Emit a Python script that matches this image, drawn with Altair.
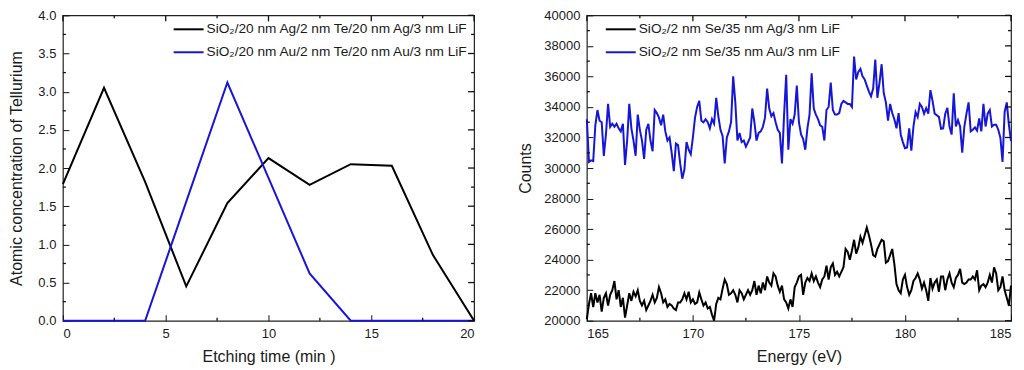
import altair as alt
import numpy as np
import pandas as pd

# ---------------- data: left panel ----------------
etch_time = [0, 2, 4, 6, 8, 10, 12, 14, 16, 18, 20]
te_ag = [1.79, 3.05, 1.82, 0.45, 1.54, 2.13, 1.78, 2.05, 2.03, 0.86, 0.0]
te_au = [0.0, 0.0, 0.0, 1.56, 3.12, 1.87, 0.62, 0.0, 0.0, 0.0, 0.0]
label_ag = "SiO₂/20 nm Ag/2 nm Te/20 nm Ag/3 nm LiF"
label_au = "SiO₂/20 nm Au/2 nm Te/20 nm Au/3 nm LiF"

# ---------------- data: right panel ----------------
energy = [round(165.0 + 0.1 * i, 1) for i in range(201)]
counts_ag = [
    20100, 21100, 21800, 20900, 21800, 21200, 21700, 20600, 21500, 21800,
    21000, 21700, 22000, 22600, 21400, 22000, 20900, 21500, 20200, 21000,
    21800, 21300, 21900, 21600, 22000, 21300, 21000, 21300, 20700, 21000,
    21300, 21700, 21200, 21500, 22200, 21800, 21200, 21400, 20900, 21100,
    21000, 20800, 20700, 21200, 21200, 21400, 21800, 21400, 21900, 21200,
    21400, 21100, 21200, 21850, 21400, 21000, 21200, 20800, 20900, 20400,
    20000, 21100, 21500, 21400, 22100, 22700, 22400, 21700, 21800, 22000,
    21700, 21200, 22000, 21800, 21400, 21700, 22000, 21700, 22000, 22600,
    21700, 22300, 21800, 22500, 22000, 22900, 22500, 22300, 23100, 22900,
    22300, 21900, 22300, 21400, 21200, 20800, 21400, 20900, 22200, 22500,
    22900, 23000, 21700, 22500, 22800, 22600, 23100, 22600, 22900, 22500,
    22200, 22700, 22900, 23600, 22700, 23500, 23750, 23000, 23200, 22900,
    23200, 23500, 24700, 24500, 24000, 24600, 25300, 24400, 24800, 25500,
    25100, 25600, 26100, 25600, 25000, 24300, 24200, 24700, 25000, 25300,
    25200, 23800, 23900, 24300, 24700, 23700, 22400, 22000, 21800, 22700,
    23000, 22200, 21700, 22000, 22600, 22800, 23100, 22700, 22100, 22500,
    22000, 21300, 22800, 22100, 22500, 22700, 21900, 22900, 22900, 22000,
    22700, 23100, 22500, 22200, 22800, 23000, 23400, 22500, 22400, 22500,
    22700, 22700, 22900, 22700, 23300, 22000, 22300, 22400, 22200, 22500,
    23000, 22500, 23500, 23100, 22000, 22200, 22900, 22000, 21500, 21000,
    22300,
]
counts_au = [
    33200, 30400, 30500, 30450, 32800, 33800, 33100, 33000, 30800, 32200,
    34200, 32700, 32900, 32700, 32900, 32600, 32400, 32900, 30200, 31800,
    34200, 32600, 31800, 30800, 33500, 32500, 31800, 30600, 32500, 32900,
    31800, 31100, 33800, 33600, 33300, 32800, 33500, 32400, 31800, 32000,
    31000, 29800, 31600, 31500, 30300, 29300, 29900, 31700, 31200, 30900,
    32000, 33300, 34000, 34400, 33100, 33000, 33200, 33000, 32600, 33200,
    32900, 34600, 33400, 32500, 32100, 30300, 32000, 32400, 33000, 36000,
    34300, 31800, 32300, 31700, 31800, 31400, 31700, 32000, 33900, 33000,
    31800, 32300, 32400, 32700, 33300, 35200, 33900, 33400, 33600, 33000,
    32500, 32300, 30300, 33500, 36100, 31200, 33200, 32900, 33500, 35400,
    33000, 32200, 31900, 31200, 32600, 33500, 36200, 33900, 33500, 33200,
    32800, 32700, 31800, 33800, 34000, 35600, 33800, 33500, 33500, 33600,
    34200, 34400, 34300, 34200, 34200, 34000, 37300, 35800, 36300, 36500,
    36000, 35800, 35400, 35000, 34700, 35200, 37100, 34600, 35600, 36800,
    34900, 34300, 33100, 34200, 33600, 33200, 32600, 33600, 32200, 31700,
    31300, 31350, 32600, 31140, 32720, 33670, 33350, 34200, 34000, 33560,
    33920, 33560, 35100, 34400, 33560, 33460, 33350, 32570, 32600, 33560,
    33940, 32720, 32190, 34900, 32720, 33140, 32720, 31000, 32720, 33560,
    34300, 32400, 32510, 32660, 32450, 33250, 32400, 34200, 32720, 33560,
    33800, 32720, 32830, 32830, 32510, 31980, 30400, 33670, 34300, 32830,
    31770,
]
label_se_ag = "SiO₂/2 nm Se/35 nm Ag/3 nm LiF"
label_se_au = "SiO₂/2 nm Se/35 nm Au/3 nm LiF"

# axis ticks
left_x_major = [0, 5, 10, 15, 20]
left_x_minor = [2.5, 7.5, 12.5, 17.5]
left_y_major = [0, 0.5, 1, 1.5, 2, 2.5, 3, 3.5, 4]
left_y_minor = [0.25, 0.75, 1.25, 1.75, 2.25, 2.75, 3.25, 3.75]
right_x_major = [165, 170, 175, 180, 185]
right_x_minor = [167.5, 172.5, 177.5, 182.5]
right_y_major = [20000, 22000, 24000, 26000, 28000, 30000, 32000, 34000, 36000, 38000, 40000]
right_y_minor = [21000, 23000, 25000, 27000, 29000, 31000, 33000, 35000, 37000, 39000]

BLACK = "#000000"
BLUE = "#1616d6"
FONT = "Liberation Sans"
TXT = "#1a1a1a"
TICK = "#111111"
INWARD = {"expr": "-6"}

left_df = pd.concat([
    pd.DataFrame({"x": etch_time, "y": te_ag, "series": label_ag, "o": 0}),
    pd.DataFrame({"x": etch_time, "y": te_au, "series": label_au, "o": 1}),
])
right_df = pd.concat([
    pd.DataFrame({"x": energy, "y": counts_ag, "series": label_se_ag, "o": 0}),
    pd.DataFrame({"x": energy, "y": counts_au, "series": label_se_au, "o": 1}),
])


def panel(df, labels, xdom, ydom, xmajor, xminor, ymajor, yminor, xtitle, ytitle,
          w, h, lx, ly, yfmt, ytitle_pad):
    xs = alt.Scale(domain=xdom, nice=False, zero=False)
    ys = alt.Scale(domain=ydom, nice=False, zero=False)
    xaxis = alt.Axis(values=xmajor, ticks=True, tickSize=INWARD, tickColor=TICK,
                     domain=False, grid=False, title=xtitle,
                     format="d", labelPadding=13, titlePadding=8)
    yaxis = alt.Axis(values=ymajor, ticks=True, tickSize=INWARD, tickColor=TICK,
                     domain=False, grid=False, title=ytitle,
                     format=yfmt, labelPadding=13, titlePadding=ytitle_pad)
    main = alt.Chart(df).mark_line(strokeWidth=2).encode(
        x=alt.X("x:Q", scale=xs, axis=xaxis),
        y=alt.Y("y:Q", scale=ys, axis=yaxis),
        color=alt.Color("series:N", scale=alt.Scale(domain=labels, range=[BLACK, BLUE]),
                        legend=alt.Legend(
                            orient="none", legendX=lx, legendY=ly, title=None,
                            symbolType="stroke", symbolSize=900, symbolStrokeWidth=2,
                            labelFontSize=13.7, labelFont=FONT, labelColor=TXT,
                            labelLimit=500, padding=0, rowPadding=-12, labelOffset=2)),
        order="o:Q",
    )

    def xticks(vals, size, top):
        d = pd.DataFrame({"tx": vals})
        return alt.Chart(d).mark_rule(color=TICK, strokeWidth=1.3).encode(
            x=alt.X("tx:Q", scale=xs, axis=None),
            y=alt.value(0 if top else h),
            y2=alt.value(size if top else h - size),
        )

    def yticks(vals, size, right):
        d = pd.DataFrame({"ty": vals})
        return alt.Chart(d).mark_rule(color=TICK, strokeWidth=1.3).encode(
            y=alt.Y("ty:Q", scale=ys, axis=None),
            x=alt.value(w if right else 0),
            x2=alt.value(w - size if right else size),
        )

    layers = [
        main,
        xticks(xmajor, 6, True),
        xticks(xminor, 3, False), xticks(xminor, 3, True),
        yticks(ymajor, 6, True),
        yticks(yminor, 3, False), yticks(yminor, 3, True),
    ]
    return alt.layer(*layers).resolve_axis(x="independent", y="independent").properties(
        width=w, height=h)


left = panel(
    left_df, [label_ag, label_au], [0, 20], [0, 4],
    left_x_major, left_x_minor, left_y_major, left_y_minor,
    "Etching time (min )", "Atomic concentration of Tellurium",
    412, 306, 110, -2, ".1f", 13,
)
right = panel(
    right_df, [label_se_ag, label_se_au], [165, 185], [20000, 40000],
    right_x_major, right_x_minor, right_y_major, right_y_minor,
    "Energy (eV)", "Counts",
    425, 306, 18, -2, "d", 10,
)

chart = alt.hconcat(left, right, spacing=38).resolve_scale(
    color="independent"
).properties(padding=0).configure_view(
    stroke="#222", strokeWidth=1.2
).configure_axis(
    labelFont=FONT, labelFontSize=13, labelColor=TXT,
    titleFont=FONT, titleFontSize=16, titleFontWeight="normal", titleColor=TXT,
)

chart.save("out.html", embed_options={"renderer": "svg", "actions": False})
